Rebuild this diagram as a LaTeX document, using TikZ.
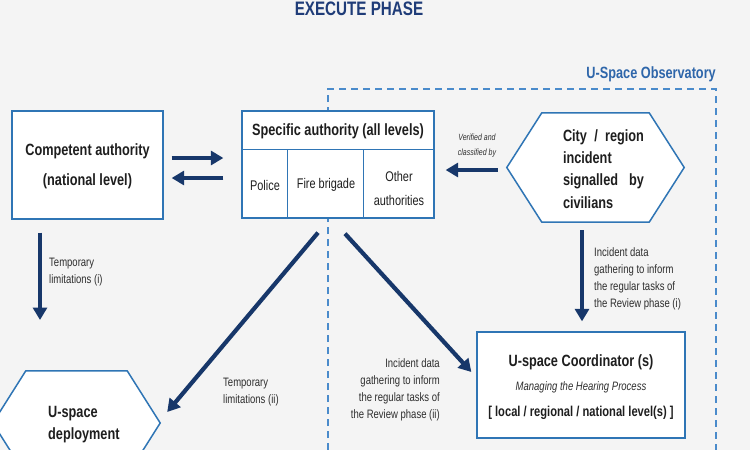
\documentclass[tikz,border=0pt]{standalone}
\usepackage{fontspec}
\setmainfont{Liberation Sans}[FakeStretch=0.78]
\usetikzlibrary{arrows.meta,calc}
\pgfdeclarelayer{bg}
\pgfdeclarelayer{mid}
\pgfsetlayers{bg,mid,main}
\definecolor{navy}{HTML}{17376A}
\definecolor{boxblue}{HTML}{2F75B5}
\definecolor{dashblue}{HTML}{4A8BCB}
\definecolor{titleblue}{HTML}{1F3C78}
\definecolor{obsblue}{HTML}{2E66AA}
\definecolor{bgc}{HTML}{F4F4F4}
\definecolor{txt}{HTML}{1E1E1E}
\definecolor{txtb}{HTML}{2E2E2E}
\newcommand\myfs[2]{\fontsize{#1}{#2}\selectfont}
\begin{document}
\begin{tikzpicture}[x=1pt,y=-1pt,
  box/.style={draw=boxblue, line width=1.3pt, fill=white, inner sep=0pt},
  boxline/.style={draw=boxblue, line width=1.3pt},
  hexline/.style={draw=boxblue, line width=1.5pt, fill=white},
  ghost/.style={inner sep=0pt, draw=none},
  bigarrow/.style={draw=navy, line width=4.2pt, -{Triangle[length=12.5pt,width=14pt]}},
  maintxt/.style={font=\bfseries\myfs{16.3}{18}, text=txt, inner sep=0pt},
  celltxt/.style={font=\myfs{14}{24}, text=txt, inner sep=0pt, align=center},
  smalltxt/.style={font=\myfs{12.2}{17}, text=txtb, inner sep=0pt},
  obsdash/.style={draw=dashblue, line width=1.8pt, dash pattern=on 7pt off 5pt}
]
\begin{pgfonlayer}{bg}
\fill[bgc] (0,0) rectangle (750,450);
\end{pgfonlayer}
\useasboundingbox (0,0) rectangle (750,450);
\clip (0,0) rectangle (750,450);

% title
\node[font=\bfseries\myfs{19.5}{20}, text=titleblue, inner sep=0pt, anchor=base] (title) at (359,15) {EXECUTE PHASE};

% observatory
\node[font=\bfseries\myfs{16.3}{18}, text=obsblue, inner sep=0pt, anchor=base east] (obs) at (716,78) {U-Space Observatory};
\begin{pgfonlayer}{mid}
\coordinate (obsbl) at (328,450);
\coordinate (obstl) at (328,89);
\coordinate (obstr) at (716,89);
\coordinate (obsbr) at (716,450);
\draw[obsdash] (obsbl) -- (obstl) -- (obstr) -- (obsbr);
\end{pgfonlayer}

% competent authority
\node[box, minimum width=151pt, minimum height=108pt] (comp) at (87.5,165) {};
\node[maintxt, font=\bfseries\myfs{16.3}{30}, align=center] (comptxt) at (87.5,166) {Competent authority\\(national level)};

% specific authority
\node[box, minimum width=192pt, minimum height=107pt] (spec) at (338,164.5) {};
\draw[boxline] ($(spec.north west)+(0,39)$) -- ($(spec.north east)+(0,39)$);
\draw[boxline] ($(spec.north west)+(46,39)$) -- ($(spec.south west)+(46,0)$);
\draw[boxline] ($(spec.north west)+(122,39)$) -- ($(spec.south west)+(122,0)$);
\node[maintxt] (spechead) at (338,131) {Specific authority (all levels)};
\node[celltxt] (police) at (265,185) {Police};
\node[celltxt] (fire) at (326,185) {Fire brigade};
\node[celltxt] (other) at (399,188) {Other\\authorities};

% city hexagon
\node[ghost, minimum width=177pt, minimum height=109pt] (city) at (595.5,167.5) {};
\begin{pgfonlayer}{mid}
\draw[hexline] (city.west) -- ($(city.north west)+(35,0)$) -- ($(city.north east)+(-35,0)$) -- (city.east) -- ($(city.south east)+(-35,0)$) -- ($(city.south west)+(35,0)$) -- cycle;
\end{pgfonlayer}
\node[maintxt, font=\bfseries\myfs{16.3}{22.3}, align=left] (citytxt) at (603.5,169) {\makebox[81pt][s]{City / region}\\\makebox[81pt][l]{incident}\\\makebox[81pt][s]{signalled by}\\\makebox[81pt][l]{civilians}};

% coordinator
\node[box, minimum width=208pt, minimum height=106pt] (coord) at (581,385) {};
\node[maintxt] (coordtitle) at (581,362) {U-space Coordinator (s)};
\node[smalltxt, font=\itshape\myfs{12.2}{17}] (coordsub) at (581,387) {Managing the Hearing Process};
\node[maintxt, font=\bfseries\myfs{14.3}{16}] (coordlev) at (581,413) {[ local / regional / national level(s) ]};

% deployment hexagon
\node[ghost, minimum width=167pt, minimum height=104pt] (dep) at (76.5,423) {};
\begin{pgfonlayer}{mid}
\draw[hexline] (dep.west) -- ($(dep.north west)+(33,0)$) -- ($(dep.north east)+(-33,0)$) -- (dep.east) -- ($(dep.south east)+(-33,0)$) -- ($(dep.south west)+(33,0)$) -- cycle;
\end{pgfonlayer}
\node[maintxt, font=\bfseries\myfs{16.3}{22}, align=left, anchor=west] (deptxt) at (48,425) {U-space\\deployment};

% arrows
\draw[bigarrow] ($(comp.east)+(8,-7)$) -- ($(spec.west)+(-18,-6.5)$);
\draw[bigarrow] ($(spec.west)+(-18,13.5)$) -- ($(comp.east)+(8,13)$);
\draw[bigarrow] ($(city.west)+(-9,2.5)$) -- ($(spec.east)+(11,5.5)$);
\coordinate (a1end) at (40,320);
\draw[bigarrow] ($(comp.south)+(-47.5,13)$) -- (a1end);
\draw[bigarrow] ($(spec.south)+(-20,14)$) -- ($(dep.east)+(7,-11)$);
\draw[bigarrow] ($(spec.south)+(7,15)$) -- ($(coord.west)+(-5,-13)$);
\draw[bigarrow] ($(city.south)+(-13.5,8)$) -- ($(coord.north)+(1,-10)$);

% labels
\node[smalltxt, font=\itshape\myfs{9}{15}, align=center] (verif) at (477,145.5) {Verified and\\classified by};
\node[smalltxt, align=left, anchor=west] (lab1) at (49,272) {Temporary\\limitations (i)};
\node[smalltxt, align=left, anchor=west] (lab2) at (223,392) {Temporary\\limitations (ii)};
\node[smalltxt, align=right, anchor=east] (lab3) at (440,390) {Incident data\\gathering to inform\\the regular tasks of\\the Review phase (ii)};
\node[smalltxt, align=left, anchor=west] (lab4) at (594,279) {Incident data\\gathering to inform\\the regular tasks of\\the Review phase (i)};
\end{tikzpicture}
\end{document}
